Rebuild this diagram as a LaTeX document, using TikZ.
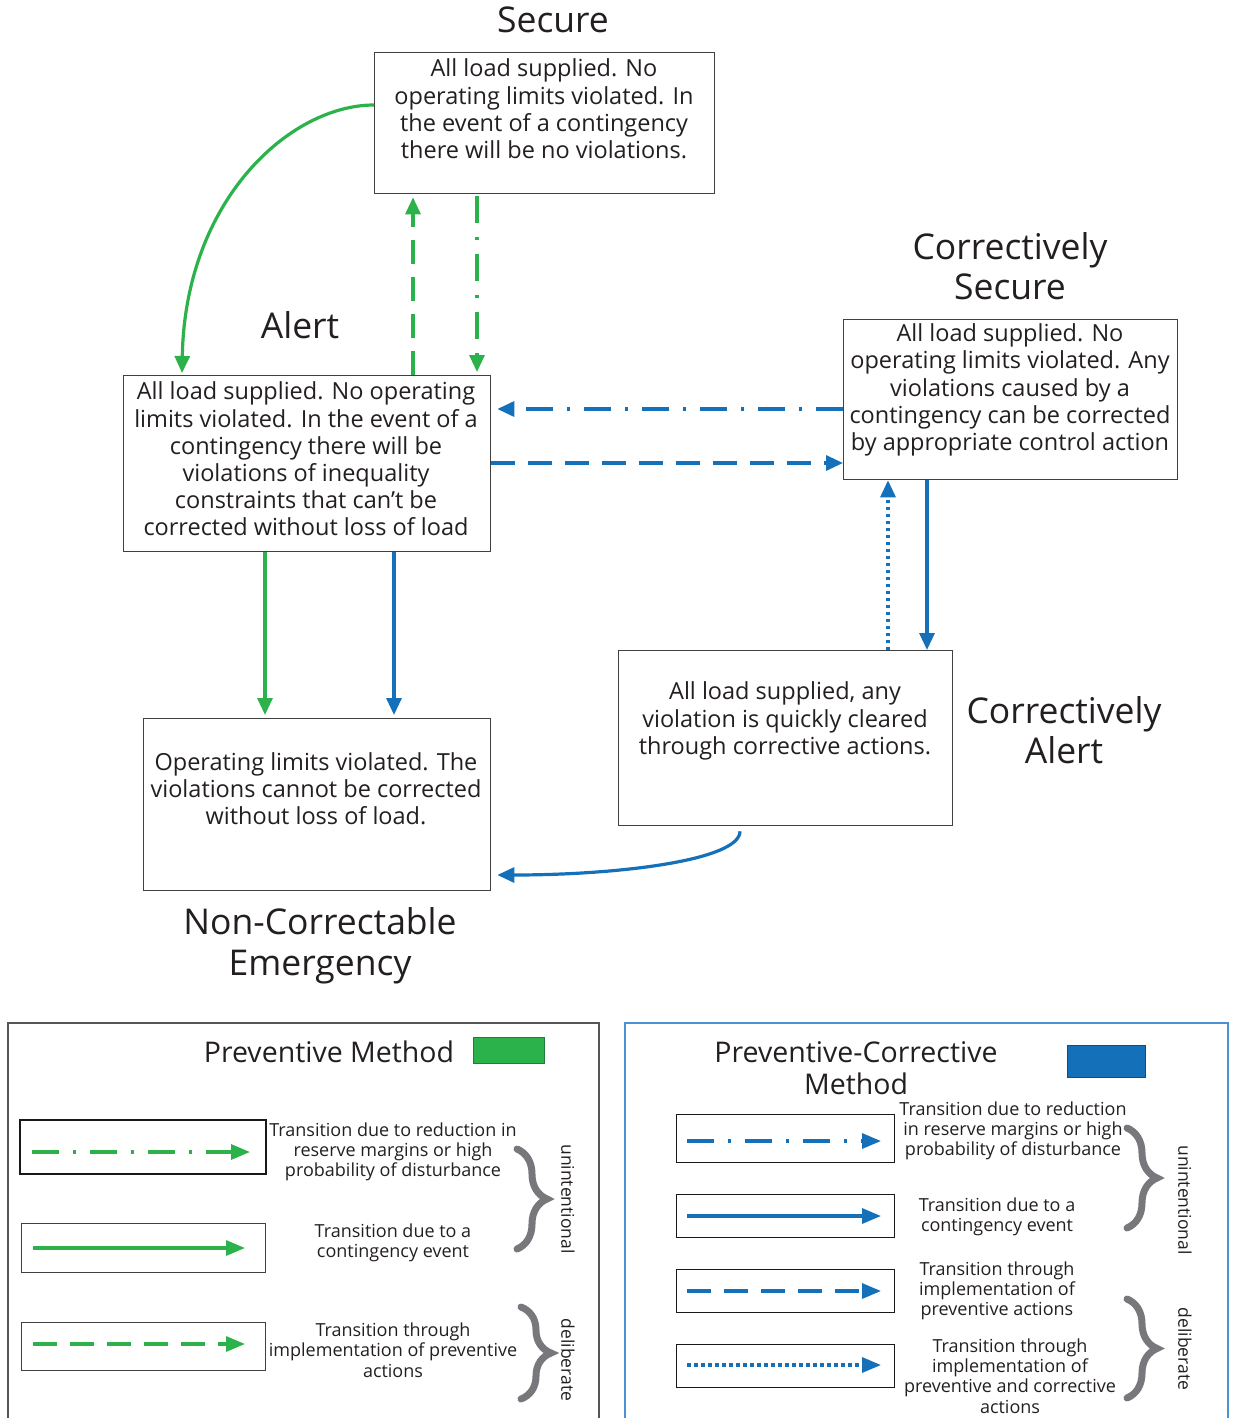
\documentclass[tikz,border=0pt]{standalone}
\usepackage{fontspec}
\setmainfont{Open Sans}
\usetikzlibrary{arrows.meta,calc,decorations.pathreplacing}
\definecolor{pgreen}{RGB}{44,178,75}
\definecolor{pblue}{RGB}{21,112,186}
\definecolor{boxgray}{RGB}{64,64,64}
\definecolor{bracegray}{RGB}{120,120,124}
\definecolor{frameblue}{RGB}{74,146,212}
\definecolor{framegray}{RGB}{85,85,85}
\definecolor{txt}{RGB}{35,31,32}
\begin{document}
\begin{tikzpicture}[x=1pt,y=-1pt,
  statebox/.style={draw=boxgray, line width=1.3pt, anchor=north west, inner sep=0pt},
  boxtext/.style={align=center, text=txt, font=\fontsize{23.5}{27.2}\selectfont},
  statetitle/.style={align=center, text=txt, font=\fontsize{35.5}{40.5}\selectfont},
  legtitle/.style={align=center, text=txt, font=\fontsize{28.5}{32}\selectfont},
  legtext/.style={align=center, text=txt, font=\fontsize{18}{20.3}\selectfont},
  legbox/.style={draw=boxgray, line width=1.3pt, anchor=north west, inner sep=0pt},
  sidetext/.style={rotate=-90, text=txt, font=\fontsize{17.5}{20}\selectfont},
  tr/.style={line width=3.2pt, -{Triangle[length=17pt,width=15pt]}},
  ltr/.style={line width=3.2pt, -{Triangle[length=19pt,width=15pt]}},
  dashdot/.style={dash pattern=on 27pt off 14pt on 3pt off 14pt},
  longdash/.style={dash pattern=on 24pt off 13pt},
  dotline/.style={dash pattern=on 3.5pt off 3.5pt},
  bracestyle/.style={draw=bracegray, line width=7pt, line cap=round, decorate, decoration={brace, amplitude=30pt}}
]
\useasboundingbox (0,0) rectangle (1236,1418);

% ---------- state boxes ----------
\node[statebox, minimum width=340pt, minimum height=141pt] (secure) at (374,52) {};
\node[statebox, minimum width=367pt, minimum height=176pt] (alert) at (123,375) {};
\node[statebox, minimum width=334pt, minimum height=160pt] (cs) at (843,319) {};
\node[statebox, minimum width=334pt, minimum height=175pt] (ca) at (618,650) {};
\node[statebox, minimum width=347pt, minimum height=172pt] (nce) at (143,718) {};

\node[boxtext] (securetxt) at (544,109) {All load supplied. No\\operating limits violated. In\\the event of a contingency\\there will be no violations.};
\node[boxtext] (alerttxt) at (306,459) {All load supplied. No operating\\limits violated. In the event of a\\contingency there will be\\violations of inequality\\constraints that can’t be\\corrected without loss of load};
\node[boxtext] (cstxt) at (1010,390) {All load supplied. No\\operating limits violated. Any\\violations caused by a\\contingency can be corrected\\by appropriate control action};
\node[boxtext] (catxt) at (785,721) {All load supplied, any\\violation is quickly cleared\\through corrective actions.};
\node[boxtext] (ncetxt) at (316,789) {Operating limits violated. The\\violations cannot be corrected\\without loss of load.};

% ---------- state titles ----------
\node[statetitle] (securetitle) at (553,20) {Secure};
\node[statetitle] (alerttitle) at (300,325) {Alert};
\node[statetitle] (cstitle) at (1010,266) {Correctively\\Secure};
\node[statetitle] (catitle) at (1064,730) {Correctively\\Alert};
\node[statetitle] (ncetitle) at (320,946) {Non-Correctable\\Emergency};

% ---------- transitions ----------
\draw[tr, pgreen] ($(secure.north west)+(0,53)$) .. controls (290,105) and (185,200) .. ($(alert.north west)+(59,-2)$);
\draw[tr, pgreen, longdash] ($(alert.north west)+(290,0)$) -- ($(secure.south west)+(39,3)$);
\draw[tr, pgreen, dashdot] ($(secure.south west)+(103,2)$) -- ($(alert.north west)+(354,-3)$);
\draw[tr, pblue, dashdot] ($(cs.north west)+(0,90)$) -- ($(alert.north east)+(6,34)$);
\draw[tr, pblue, longdash] ($(alert.north east)+(0,88)$) -- ($(cs.north west)+(0,144)$);
\draw[tr, pblue, dotline] ($(ca.north west)+(270,0)$) -- ($(cs.south west)+(45,0)$);
\draw[tr, pblue] ($(cs.south west)+(84,0)$) -- ($(ca.north west)+(309,0)$);
\draw[tr, pgreen] ($(alert.south west)+(142,0)$) -- ($(nce.north west)+(122,-3)$);
\draw[tr, pblue] ($(alert.south west)+(271,0)$) -- ($(nce.north west)+(251,-3)$);
\draw[tr, pblue] ($(ca.south west)+(122,5)$) .. controls (740,860) and (620,875) .. ($(nce.north east)+(6,157)$);

% ---------- legend: preventive ----------
\draw[draw=framegray, line width=1.5pt] (8,1430) -- (8,1023) -- (599,1023) -- (599,1430);
\node[legtitle] (ptitle) at (329,1052) {Preventive Method};
\node[draw=pgreen!70!black, fill=pgreen, line width=1pt, anchor=north west, minimum width=71pt, minimum height=26pt, inner sep=0pt] (pswatch) at (473,1037) {};

\node[legbox, draw=black!90, line width=2pt, minimum width=246pt, minimum height=54pt] (lp1) at (19,1119) {};
\node[legbox, minimum width=244pt, minimum height=49pt] (lp2) at (21,1223) {};
\node[legbox, minimum width=244pt, minimum height=48pt] (lp3) at (21,1322) {};
\draw[ltr, pgreen, dashdot] ($(lp1.north west)+(13,33)$) -- ($(lp1.north west)+(231,33)$);
\draw[ltr, pgreen] ($(lp2.north west)+(12,25)$) -- ($(lp2.north west)+(224,25)$);
\draw[ltr, pgreen, longdash] ($(lp3.north west)+(12,22)$) -- ($(lp3.north west)+(224,22)$);

\node[legtext] (lpt1) at (393,1152) {Transition due to reduction in\\reserve margins or high\\probability of disturbance};
\node[legtext] (lpt2) at (393,1243) {Transition due to a\\contingency event};
\node[legtext] (lpt3) at (393,1350) {Transition through\\implementation of preventive\\actions};

\draw[bracestyle] (517,1149) -- (517,1249);
\draw[bracestyle] (521,1307) -- (521,1399);
\node[sidetext] (lpu) at (568,1199) {unintentional};
\node[sidetext] (lpd) at (568,1360) {deliberate};

% ---------- legend: preventive-corrective ----------
\draw[draw=frameblue, line width=1.5pt] (625,1430) -- (625,1023) -- (1228,1023) -- (1228,1430);
\node[legtitle] (pctitle) at (856,1068) {Preventive-Corrective\\Method};
\node[draw=pblue!70!black, fill=pblue, line width=1pt, anchor=north west, minimum width=78pt, minimum height=32pt, inner sep=0pt] (pcswatch) at (1067,1045) {};

\node[legbox, draw=black!90, minimum width=218pt, minimum height=48pt] (lc1) at (676,1114) {};
\node[legbox, draw=black!90, minimum width=218pt, minimum height=43pt] (lc2) at (676,1194) {};
\node[legbox, draw=black!90, minimum width=218pt, minimum height=43pt] (lc3) at (676,1269) {};
\node[legbox, draw=black!90, minimum width=218pt, minimum height=43pt] (lc4) at (676,1344) {};
\draw[ltr, pblue, dashdot] ($(lc1.north west)+(11,27)$) -- ($(lc1.north west)+(205,27)$);
\draw[ltr, pblue] ($(lc2.north west)+(11,22)$) -- ($(lc2.north west)+(205,22)$);
\draw[ltr, pblue, longdash] ($(lc3.north west)+(11,22)$) -- ($(lc3.north west)+(205,22)$);
\draw[ltr, pblue, dotline] ($(lc4.north west)+(11,21)$) -- ($(lc4.north west)+(205,21)$);

\node[legtext] (lct1) at (1013,1131) {Transition due to reduction\\in reserve margins or high\\probability of disturbance};
\node[legtext] (lct2) at (997,1217) {Transition due to a\\contingency event};
\node[legtext] (lct3) at (997,1291) {Transition through\\implementation of\\preventive actions};
\node[legtext] (lct4) at (1010,1376) {Transition through\\implementation of\\preventive and corrective\\actions};

\draw[bracestyle] (1127,1128) -- (1127,1228);
\draw[bracestyle] (1127,1299) -- (1127,1398);
\node[sidetext] (lcu) at (1185,1200) {unintentional};
\node[sidetext] (lcd) at (1185,1349) {deliberate};
\end{tikzpicture}
\end{document}
